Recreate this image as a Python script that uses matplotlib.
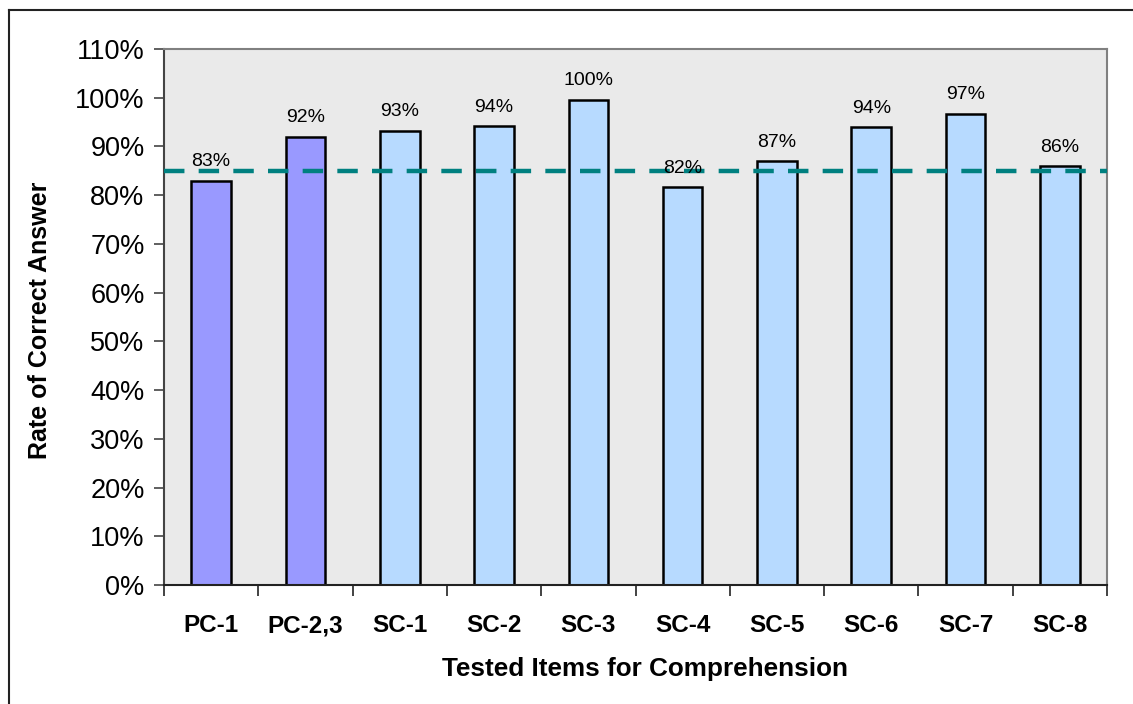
import numpy as np
import matplotlib.pyplot as plt
from matplotlib.ticker import FixedLocator, PercentFormatter
from matplotlib.lines import Line2D

plt.rcParams['font.family'] = ['Liberation Sans', 'DejaVu Sans']

items = ['PC-1', 'PC-2,3', 'SC-1', 'SC-2', 'SC-3', 'SC-4', 'SC-5', 'SC-6', 'SC-7', 'SC-8']
rates = [83.0, 92.0, 93.2, 94.1, 99.6, 81.6, 87.0, 94.0, 96.7, 86.0]
groups = ['PC', 'PC', 'SC', 'SC', 'SC', 'SC', 'SC', 'SC', 'SC', 'SC']
target = 85.0

colors = {'PC': '#9999FF', 'SC': '#B7DAFF'}

fig = plt.figure(figsize=(11.33, 7.04), dpi=100)
ax = fig.add_axes([164 / 1133, 1 - 585 / 704, (1107 - 164) / 1133, (585 - 49) / 704])
ax.set_facecolor('#EAEAEA')

x = np.arange(len(items))
bars = ax.bar(x, rates, width=0.42, color=[colors[g] for g in groups],
              edgecolor='black', linewidth=1.8, zorder=2)
for b, r in zip(bars, rates):
    ax.annotate(f'{r:.0f}%', (b.get_x() + b.get_width() / 2, b.get_height()),
                xytext=(0, 7.5), textcoords='offset points',
                ha='center', va='bottom', fontsize=14, zorder=4)

ax.axhline(target, color='#008080', linewidth=3.2, dashes=(4.6, 3.2), zorder=3)

ax.set_xlim(-0.5, len(items) - 0.5)
ax.set_ylim(0, 110)
ax.yaxis.set_major_locator(FixedLocator(np.arange(0, 111, 10)))
ax.yaxis.set_major_formatter(PercentFormatter(decimals=0))
ax.set_xticks(x)
ax.set_xticklabels(items, fontsize=17.5, fontweight='bold')
ax.xaxis.set_minor_locator(FixedLocator(np.arange(-0.5, len(items), 1.0)))
ax.tick_params(axis='x', which='major', length=0, pad=34)
ax.tick_params(axis='x', which='minor', length=8, width=1.2, direction='out', color='#222222')
ax.tick_params(axis='y', length=7, width=1.2, direction='out', color='#444444',
               labelsize=19.5, pad=7)
# baseline alignment keeps "PC-2,3" level with the other labels
for t in ax.xaxis.get_major_ticks():
    t.label1.set_verticalalignment('baseline')

ax.spines['left'].set_color('#444444')
ax.spines['left'].set_linewidth(1.5)
ax.spines['bottom'].set_color('#222222')
ax.spines['bottom'].set_linewidth(1.5)
for s in ('top', 'right'):
    ax.spines[s].set_color('#808080')
    ax.spines[s].set_linewidth(1.5)

ax.set_xlabel('Tested Items for Comprehension', fontsize=18.8, fontweight='bold')
ax.xaxis.set_label_coords((645 - 164) / 943, -(657 - 585) / 536)
ax.set_ylabel('Rate of Correct Answer', fontsize=18, fontweight='bold')
ax.yaxis.set_label_coords(-(164 - 52) / 943, (585 - 320) / 536)

# outer chart frame (only left and top edges fall inside the canvas)
fig.add_artist(Line2D([8.5 / 1133, 8.5 / 1133], [0, 1 - 10 / 704], color='#222222', linewidth=1.5))
fig.add_artist(Line2D([8.5 / 1133, 1], [1 - 10 / 704, 1 - 10 / 704], color='#222222', linewidth=1.5))

fig.savefig('out.png', dpi=100)
